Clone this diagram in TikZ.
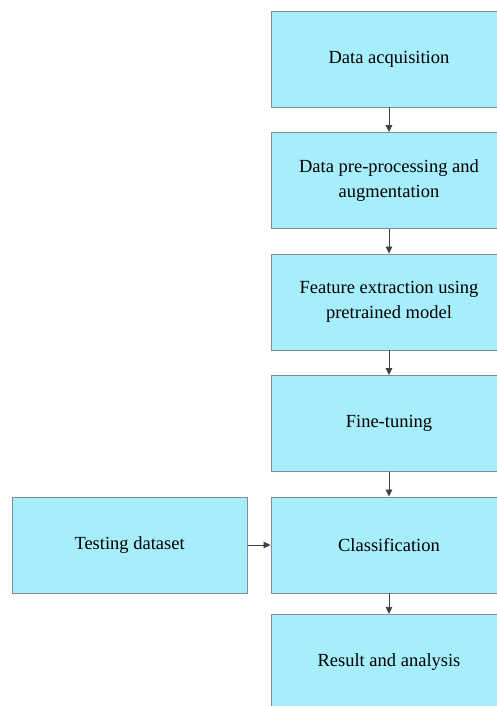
\documentclass[tikz,border=0pt]{standalone}
\usepackage{fontspec}
\setmainfont{Liberation Serif}
\usetikzlibrary{arrows.meta,positioning}
\definecolor{boxcyan}{HTML}{A6EEFC}
\definecolor{boxline}{HTML}{7F8C9A}

\begin{document}
\begin{tikzpicture}[
  font=\fontsize{18.5}{25}\selectfont,
  box/.style={draw=boxline, fill=boxcyan, line width=0.9pt, minimum width=236pt, minimum height=96pt, align=center, inner sep=4pt},
  arr/.style={-{Triangle[length=7pt,width=6.5pt]}, draw=black!75, line width=0.8pt}
]
\useasboundingbox (0,0) rectangle (496pt,706pt);
\node[box] (acq) at (389pt,647pt) {Data acquisition};
\node[box, below=24.6pt of acq] (pre) {Data pre-processing and\\augmentation};
\node[box, below=24.6pt of pre] (feat) {Feature extraction using\\pretrained model};
\node[box, below=24.6pt of feat] (tune) {Fine-tuning};
\node[box, below=24.6pt of tune] (cls) {Classification};
\node[box, below=20.5pt of cls] (res) {Result and analysis};
\node[box, minimum width=235pt, left=23pt of cls] (test) {Testing dataset};
\draw[arr] (acq) -- (pre);
\draw[arr] (pre) -- (feat);
\draw[arr] (feat) -- (tune);
\draw[arr] (tune) -- (cls);
\draw[arr] (cls) -- (res);
\draw[arr] (test) -- (cls);
\end{tikzpicture}
\end{document}
